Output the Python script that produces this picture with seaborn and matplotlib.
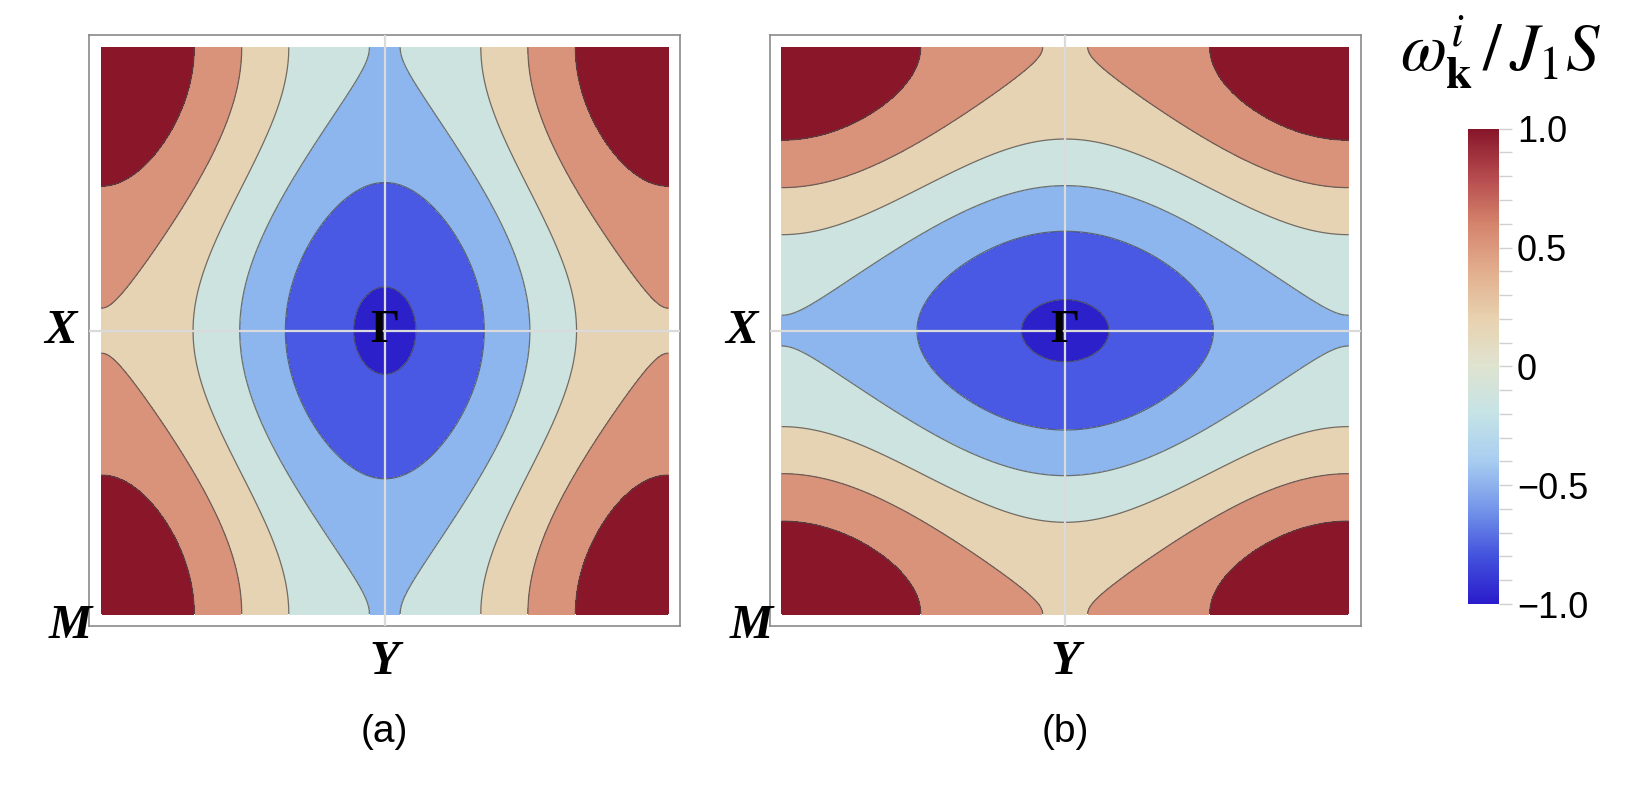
import numpy as np
import matplotlib
matplotlib.use("Agg")
import matplotlib.pyplot as plt
import seaborn as sns

# === Data ===
# dispersion coefficients: const, cos kx, cos ky, cos kx*cos ky
coef_a = [-0.0175, -0.674, -0.341, -0.0075]
coef_b = [-0.0175, -0.341, -0.674, -0.0075]
contour_levels = [-1.0, -2 / 3, -1 / 3, 0.0, 1 / 3, 2 / 3]
band_colors = ["#2c20cb", "#4959e3", "#8db6ef", "#cde3e0",
               "#e6d3b4", "#d8937a", "#8a1729"]
cbar_colors = ["#2a1ccb", "#4352dd", "#7596ea", "#a8cdf0", "#c5e3e6",
               "#dfe3d0", "#e8d2b0", "#e2ae8e", "#d5846c", "#b54a4e", "#871529"]
cbar_ticks = [-1.0, -0.5, 0.0, 0.5, 1.0]
cbar_ticklabels = ["\u22121.0", "\u22120.5", "0", "0.5", "1.0"]
point_labels = ["X", "Y", "M"]
panel_labels = ["(a)", "(b)"]

sns.set_style("white")
plt.rcParams["font.family"] = ["Liberation Sans", "DejaVu Sans"]
plt.rcParams["mathtext.fontset"] = "stix"
plt.rcParams["text.color"] = "black"

W, H = 1627, 788
fig = plt.figure(figsize=(W / 100, H / 100), dpi=100)

k = np.linspace(-np.pi, np.pi, 401)
KX, KY = np.meshgrid(k, k)
pad = 0.133


def omega(coef):
    c0, a, b, c = coef
    return c0 + a * np.cos(KX) + b * np.cos(KY) + c * np.cos(KX) * np.cos(KY)


def draw_panel(ax, coef, label):
    Z = omega(coef)
    lev = [-1.5] + contour_levels + [1.5]
    ax.contourf(KX, KY, Z, levels=lev, colors=band_colors)
    ax.contour(KX, KY, Z, levels=contour_levels, colors="#4a4a4a",
               linewidths=0.9, alpha=0.75, linestyles="solid")
    ax.axhline(0, color="#dadada", lw=1.6, zorder=5)
    ax.axvline(0, color="#dadada", lw=1.6, zorder=5)
    ax.set_xlim(-np.pi - pad, np.pi + pad)
    ax.set_ylim(-np.pi - pad, np.pi + pad)
    ax.set_xticks([])
    ax.set_yticks([])
    for sp in ax.spines.values():
        sp.set_color("#8a8a8a")
        sp.set_linewidth(1.2)
    serif = dict(family="Liberation Serif", weight="bold", color="black")
    ax.text(0, 0, "\u0393", ha="center", va="center", zorder=6,
            fontsize=33, **serif)
    ax.annotate(point_labels[0], xy=(0, 0.5), xycoords="axes fraction",
                xytext=(-9, 0), textcoords="offset points", fontsize=35,
                ha="right", va="center", style="italic", **serif)
    ax.annotate(point_labels[1], xy=(0.5, 0), xycoords="axes fraction",
                xytext=(0, -10), textcoords="offset points", fontsize=35,
                ha="center", va="top", style="italic", **serif)
    ax.annotate(point_labels[2], xy=(0, 0), xycoords="axes fraction",
                xytext=(2, 0), textcoords="offset points", fontsize=35,
                ha="right", va="center", style="italic", **serif)
    cx = ax.get_position().x0 + ax.get_position().width / 2
    fig.text(cx, 1 - 732 / H, label, ha="center", va="center", fontsize=28)


ax_a = fig.add_axes([89.3 / W, 1 - 626 / H, 591 / W, 590.7 / H])
ax_b = fig.add_axes([769.7 / W, 1 - 626 / H, 591 / W, 590.7 / H])
draw_panel(ax_a, coef_a, panel_labels[0])
draw_panel(ax_b, coef_b, panel_labels[1])

# colorbar
cmap = sns.blend_palette(cbar_colors, as_cmap=True)
cax = fig.add_axes([1467.7 / W, 1 - 604 / H, 31 / W, 475.3 / H])
sm = plt.cm.ScalarMappable(cmap=cmap, norm=plt.Normalize(-1, 1))
cb = fig.colorbar(sm, cax=cax)
cb.outline.set_visible(False)
cb.set_ticks(cbar_ticks)
cb.set_ticklabels(cbar_ticklabels)
cb.ax.yaxis.set_minor_locator(matplotlib.ticker.MultipleLocator(0.1))
cb.ax.tick_params(which="major", length=9, width=1, color="#d0d0d0",
                  labelsize=26, labelcolor="black", pad=4)
cb.ax.tick_params(which="minor", length=9, width=1, color="#d0d0d0")
fig.text(1500 / W, 1 - 52 / H, r"$\omega^{i}_{\mathbf{k}}\,/\,J_1S$",
         ha="center", va="center", fontsize=48)

fig.savefig("out.png", dpi=100)
